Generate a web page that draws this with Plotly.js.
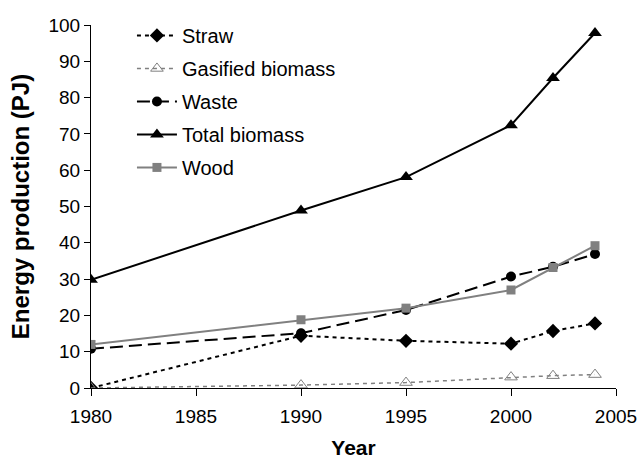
<!DOCTYPE html>
<html>
<head>
<meta charset="utf-8">
<script src="https://cdn.plot.ly/plotly-3.0.1.min.js"></script>
<style>html,body{margin:0;padding:0;background:#fff;}#chart{width:641px;height:459px;}</style>
</head>
<body>
<div id="chart"></div>
<script>
const years = [1980, 1990, 1995, 2000, 2002, 2004];
const straw = [0, 14.4, 13.0, 12.2, 15.7, 17.8];
const gasified = [0, 0.8, 1.5, 3.0, 3.4, 3.7];
const waste = [10.8, 15.1, 21.5, 30.7, 33.4, 36.9];
const totalBiomass = [29.8, 48.9, 58.1, 72.4, 85.4, 97.8];
const wood = [12.0, 18.8, 22.0, 27.0, 33.2, 39.2];
const xTicks = [1980, 1985, 1990, 1995, 2000, 2005];
const yTicks = [0, 10, 20, 30, 40, 50, 60, 70, 80, 90, 100];

const traces = [
  {name: 'Straw', legendgroup: 'a', x: years, y: straw, mode: 'lines+markers',
   line: {color: '#000', width: 2, dash: '4px,4px'},
   marker: {symbol: 'diamond', size: 11, color: '#000'}},
  {name: 'Gasified biomass', legendgroup: 'b', x: years, y: gasified, mode: 'lines+markers',
   line: {color: '#808080', width: 1.5, dash: '4px,4px'},
   marker: {symbol: 'triangle-up-open', size: 11, color: '#808080', line: {width: 1}}},
  {name: 'Waste', legendgroup: 'c', x: years, y: waste, mode: 'lines+markers',
   line: {color: '#000', width: 2, dash: '13px,6px'},
   marker: {symbol: 'circle', size: 10, color: '#000'}},
  {name: 'Total biomass', legendgroup: 'd', x: years, y: totalBiomass, mode: 'lines+markers',
   line: {color: '#000', width: 2},
   marker: {symbol: 'triangle-up', size: 12, color: '#000'}},
  {name: 'Wood', legendgroup: 'e', x: years, y: wood, mode: 'lines+markers',
   line: {color: '#808080', width: 2},
   marker: {symbol: 'square', size: 9, color: '#808080'}}
];

const layout = {
  width: 641, height: 459,
  margin: {l: 91, r: 25, t: 25, b: 71},
  paper_bgcolor: '#fff', plot_bgcolor: '#fff',
  font: {family: 'Liberation Sans, Arial, sans-serif', size: 19, color: '#000'},
  showlegend: true,
  legend: {x: 0.078, y: 1.025, xanchor: 'left', yanchor: 'top', bgcolor: 'rgba(0,0,0,0)',
           font: {size: 20}, tracegroupgap: 4, itemwidth: 40},
  xaxis: {range: [1980, 2005], tickvals: xTicks, ticktext: xTicks.map(String),
          showgrid: false, zeroline: false, showline: true, linecolor: '#000', linewidth: 1,
          ticks: 'outside', ticklen: 7, tickcolor: '#000', ticklabelstandoff: 4,
          title: {text: '<b>Year</b>', font: {size: 21}, standoff: 17}},
  yaxis: {range: [0, 100], tickvals: yTicks, ticktext: yTicks.map(String),
          showgrid: false, zeroline: false, showline: true, linecolor: '#000', linewidth: 1,
          ticks: 'outside', ticklen: 6, tickcolor: '#000',
          title: {text: '<b>Energy production (PJ)</b>', font: {size: 24}, standoff: 12}}
};

Plotly.newPlot('chart', traces, layout, {displayModeBar: false, staticPlot: true});
</script>
</body>
</html>
